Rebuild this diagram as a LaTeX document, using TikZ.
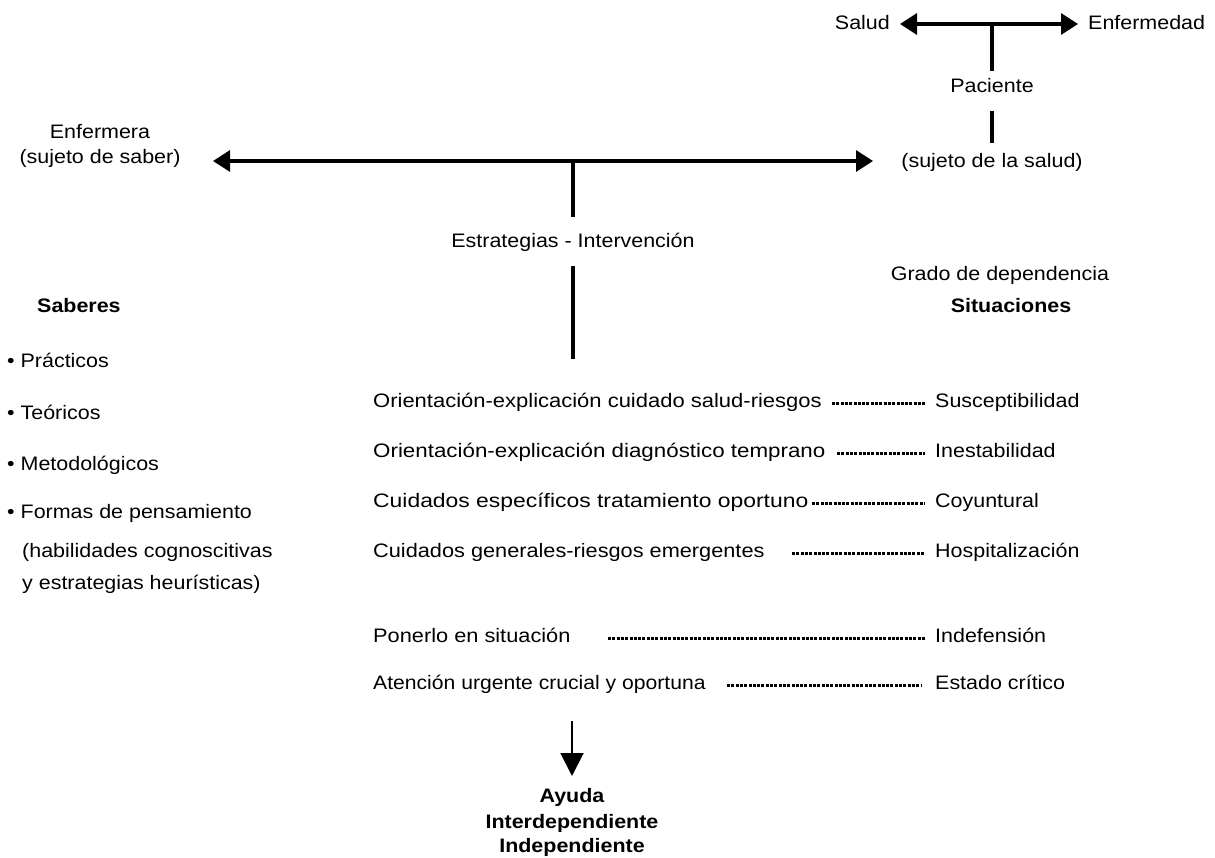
\documentclass[tikz,border=0pt]{standalone}
\usepackage{fontspec}
\setmainfont[FakeStretch=1.1]{Liberation Sans}
\usetikzlibrary{arrows.meta}
\tikzset{
  txt/.style={inner sep=0pt, font=\fontsize{19.5}{23}\selectfont, text height=14pt, text depth=4pt},
  btxt/.style={txt, font=\fontsize{19.5}{23}\selectfont\bfseries},
  bigarrow/.style={line width=3.3pt, -{Triangle[length=17pt,width=21pt]}},
  bigline/.style={line width=3.3pt},
  dotline/.style={line width=3pt, dash pattern=on 3pt off 1.3pt},
  downarrow/.style={line width=2pt, -{Triangle[length=23pt,width=23pt]}}
}
\begin{document}
\begin{tikzpicture}[x=1pt,y=-1pt]
\useasboundingbox (0,0) rectangle (1215,858);
% top: Salud - Enfermedad
\node[txt, anchor=east] (salud) at (890,25) {Salud};
\node[txt, anchor=west] (enf) at (1088,25) {Enfermedad};
\coordinate (tl) at (900,24);
\coordinate (tr) at (1078,24);
\coordinate (tm) at (992,24);
\draw[bigarrow] (tm) -- (tl);
\draw[bigarrow] (tm) -- (tr);
\node[txt] (pac) at (992,88) {Paciente};
\node[txt] (suj) at (992,163) {(sujeto de la salud)};
\coordinate (p1) at (992,71);
\coordinate (p2) at (992,111);
\coordinate (p3) at (992,143);
\draw[bigline] (tm) -- (p1);
\draw[bigline] (p2) -- (p3);
% big arrow
\node[txt] (enfa) at (100,134) {Enfermera};
\node[txt] (enfb) at (100,159) {(sujeto de saber)};
\coordinate (bl) at (213,161);
\coordinate (br) at (873,161);
\coordinate (bm) at (573,161);
\draw[bigarrow] (bm) -- (bl);
\draw[bigarrow] (bm) -- (br);
\coordinate (b1) at (573,217);
\draw[bigline] (bm) -- (b1);
\node[txt] (estr) at (573,243) {Estrategias - Intervenci\'on};
\coordinate (e1) at (573,266);
\coordinate (e2) at (573,359);
\draw[bigline] (e1) -- (e2);
% right headings
\node[txt] (grado) at (1000,276) {Grado de dependencia};
\node[btxt] (sit) at (1011,308) {Situaciones};
% left list
\node[btxt, anchor=west] (sab) at (37,308) {Saberes};
\node[txt, anchor=west] (l1) at (7,362) {\textbullet\ Pr\'acticos};
\node[txt, anchor=west] (l2) at (7,414) {\textbullet\ Te\'oricos};
\node[txt, anchor=west] (l3) at (7,465) {\textbullet\ Metodol\'ogicos};
\node[txt, anchor=west] (l4) at (7,513) {\textbullet\ Formas de pensamiento};
\node[txt, anchor=west] (l5) at (22,552) {(habilidades cognoscitivas};
\node[txt, anchor=west] (l6) at (22,584) {y estrategias heur\'isticas)};
% rows
\foreach \n/\y/\lt/\rt/\xs/\xe/\sc in {
  r1/402/{Orientaci\'on-explicaci\'on cuidado salud-riesgos}/{Susceptibilidad}/832/925/1.025,
  r2/452/{Orientaci\'on-explicaci\'on diagn\'ostico temprano}/{Inestabilidad}/837/925/1.042,
  r3/502/{Cuidados espec\'ificos tratamiento oportuno}/{Coyuntural}/812/925/1.067,
  r4/552/{Cuidados generales-riesgos emergentes}/{Hospitalizaci\'on}/792/925/1.013,
  r5/637/{Ponerlo en situaci\'on}/{Indefensi\'on}/608/925/1.015,
  r6/684/{Atenci\'on urgente crucial y oportuna}/{Estado cr\'itico}/727/922/0.985}{
  \node[txt, anchor=west] (\n L) at (373,\y) {\scalebox{\sc}[1]{\lt}};
  \node[txt, anchor=west] (\n R) at (935,\y) {\rt};
  \coordinate (\n a) at (\xs,\y+1);
  \coordinate (\n b) at (\xe,\y+1);
  \draw[dotline] (\n a) -- (\n b);
}
% bottom arrow
\coordinate (d1) at (572,721);
\coordinate (d2) at (572,776);
\draw[downarrow] (d1) -- (d2);
\node[btxt] (ay1) at (572,797) {Ayuda};
\node[btxt] (ay2) at (572,823) {Interdependiente};
\node[btxt] (ay3) at (572,847) {Independiente};
\end{tikzpicture}
\end{document}
